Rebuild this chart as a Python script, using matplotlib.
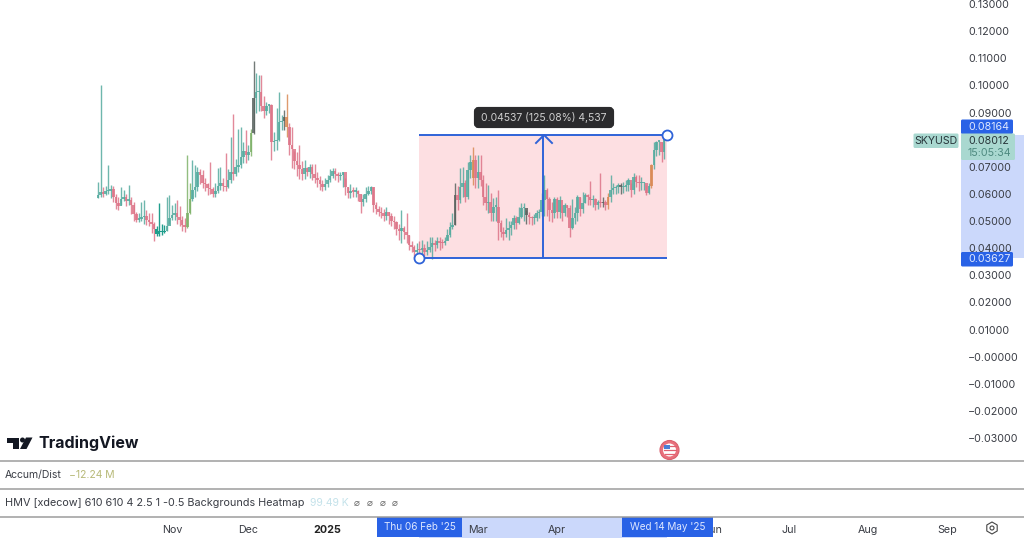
import matplotlib
matplotlib.use("Agg")
import matplotlib.pyplot as plt
from matplotlib.patches import Rectangle, FancyBboxPatch, Polygon, Circle, RegularPolygon

plt.rcParams['font.family'] = ['Inter', 'DejaVu Sans']

# Daily candles, prices in units of 0.0001 (first candle 3 Oct 2024)
opens = [585,596,608,600,610,612,618,590,565,555,
 583,590,575,578,560,525,505,507,515,520,
 505,495,490,470,452,462,460,465,480,510,
 522,528,515,505,485,478,530,580,615,625,
 680,670,640,635,620,618,600,612,628,640,
 630,625,650,682,675,700,705,735,760,745,
 755,825,955,975,975,925,905,925,928,790,
 795,800,865,870,885,845,780,765,720,705,
 690,675,695,680,700,672,660,650,635,625,
 635,650,665,685,672,665,668,680,625,605,
 612,608,610,598,570,580,600,610,625,560,
 545,535,530,520,535,520,500,495,470,465,
 475,460,450,410,405,385,395,393,400,385,
 395,405,418,410,425,420,418,428,448,479,
 485,596,577,626,640,590,688,657,725,657,
 682,651,590,565,571,528,553,553,491,461,
 454,467,473,485,510,491,516,547,547,522,
 516,510,510,528,534,577,614,583,540,528,
 583,534,577,528,559,547,473,510,528,590,
 546,565,596,590,577,583,559,571,565,571,
 559,590,614,620,626,633,624,626,633,651,
 614,663,645,639,639,639,602,629,706,762,
 792,792,756]
closes = [596,608,600,610,612,618,590,565,555,583,
 590,575,578,560,525,505,507,515,520,505,
 495,490,470,452,462,460,465,480,510,522,
 528,515,505,485,478,530,580,615,625,680,
 670,640,635,620,618,600,612,628,640,630,
 625,650,682,675,700,705,735,760,745,755,
 825,955,975,975,925,905,925,928,790,795,
 800,865,870,885,845,780,765,720,705,690,
 675,695,680,700,672,660,650,635,625,635,
 650,665,685,672,665,668,680,625,605,612,
 608,610,598,570,580,600,610,625,560,545,
 535,530,520,535,520,500,495,470,465,475,
 460,450,410,405,385,395,393,400,385,395,
 405,418,410,425,420,418,428,448,479,485,
 596,577,626,640,590,688,719,725,657,682,
 651,590,565,571,528,553,553,491,461,454,
 467,473,485,510,491,516,547,547,522,516,
 510,510,528,534,577,614,583,540,528,583,
 534,577,528,559,547,473,510,528,590,546,
 565,596,590,577,583,559,571,565,571,559,
 590,614,620,626,633,624,626,633,651,614,
 663,645,639,639,639,602,629,706,762,792,
 792,756,801]
highs = [645,1000,626,628,706,632,628,600,590,626,
 615,600,632,590,570,535,530,571,577,540,
 528,528,495,480,567,490,485,589,595,560,
 565,577,555,520,510,743,640,724,706,700,
 690,688,660,640,718,625,640,694,700,660,
 749,690,810,896,730,841,847,790,835,780,
 841,1089,1046,1038,1038,960,940,933,933,830,
 915,976,890,910,970,860,847,760,755,782,
 720,725,700,712,712,712,680,665,650,660,
 670,690,694,694,680,680,681,660,625,638,
 625,625,615,600,600,625,629,629,625,570,
 555,550,545,550,535,530,520,500,490,542,
 480,528,450,425,410,420,425,430,415,425,
 440,442,430,440,440,435,440,470,495,528,
 639,630,694,700,651,719,743,774,743,743,
 743,669,639,633,602,584,590,614,505,479,
 510,500,500,522,520,553,567,565,540,535,
 520,525,540,545,602,669,620,590,572,590,
 590,592,560,565,560,560,583,553,596,590,
 608,602,600,647,596,585,577,678,590,577,
 602,669,640,633,640,639,645,653,657,640,
 676,670,670,663,645,633,640,712,792,796,
 796,792,811]
lows = [585,590,590,595,600,585,570,546,540,560,
 575,555,560,525,500,497,495,500,490,485,
 480,455,427,445,445,450,455,465,490,505,
 505,490,480,465,460,475,525,575,590,610,
 635,620,610,595,600,590,590,605,615,610,
 610,620,640,650,665,680,695,715,715,725,
 740,820,900,905,905,880,890,900,724,760,
 761,795,835,835,810,745,694,690,665,655,
 651,655,665,660,650,640,625,615,610,615,
 625,645,660,650,645,650,625,595,585,585,
 590,590,575,531,555,570,595,600,535,525,
 520,510,500,505,490,480,470,450,430,420,
 435,420,395,385,362,365,362,375,370,375,
 385,359,390,400,395,400,410,430,440,470,
 485,540,565,590,570,580,660,633,620,620,
 630,560,540,530,500,500,500,430,440,430,
 440,430,450,470,470,490,510,500,490,490,
 485,490,500,510,520,520,520,500,495,510,
 510,510,500,520,515,440,470,490,500,520,
 530,565,560,560,550,540,545,550,550,540,
 545,570,600,600,605,600,605,610,610,590,
 600,625,610,615,615,595,600,620,690,740,
 745,719,730]

dark_candles = [61, 140, 73, 168, 198, 205]
olive_candles = [35, 36, 60]
orange_candles = [74, 147, 200, 217]
strong_teal = [23, 24, 25, 26]

price_ticks = [0.13,0.12,0.11,0.10,0.09,0.08,0.07,0.06,0.05,0.04,0.03,0.02,0.01,0.0,-0.01,-0.02,-0.03]
price_labels = ["0.13000","0.12000","0.11000","0.10000","0.09000","","0.07000","0.06000","0.05000",
                "0.04000","0.03000","0.02000","0.01000","\u22120.00000","\u22120.01000","\u22120.02000","\u22120.03000"]
month_ticks = [29, 59, 90, 149, 180, 241, 271, 302, 333]
month_labels = ["Nov","Dec","2025","Mar","Apr","Jun","Jul","Aug","Sep"]

measure_start, measure_end = 126, 223
measure_low, measure_high = 0.03627, 0.08164
last_price = 0.08012

W, H = 1024, 538
fig = plt.figure(figsize=(W/100, H/100), dpi=100, facecolor="white")

def px_axes(z):
    a = fig.add_axes([0, 0, 1, 1], zorder=z)
    a.set_xlim(0, W); a.set_ylim(H, 0); a.axis("off"); a.patch.set_alpha(0)
    return a

under = px_axes(0)
over = px_axes(5)

# Main price axes: 0..961 px wide, 0..517 px tall
ax = fig.add_axes([0, 21/H, 961/W, 517/H], zorder=2)
ax.patch.set_alpha(0)
for s in ax.spines.values():
    s.set_visible(False)
ax.set_xlim(-98/2.55, (961-98)/2.55)
ax.set_ylim(0.13-513/2713, 0.13+4/2713)
ax.yaxis.tick_right()
ax.set_yticks(price_ticks, price_labels)
ax.tick_params(axis="y", length=0, pad=5, labelsize=7.7, labelcolor="#3a3d45")
ax.set_xticks(month_ticks, month_labels)
ax.tick_params(axis="x", length=0, pad=6, labelsize=7.7, labelcolor="#3a3d45")
for lbl in ax.get_xticklabels():
    if lbl.get_text() == "2025":
        lbl.set_fontweight("bold")
        lbl.set_color("#222222")

# Measure tool background
ax.add_patch(Rectangle((measure_start, measure_low), measure_end-measure_start,
                       measure_high-measure_low, fc="#fddfe2", ec="none", zorder=1))

# Candles
for i, (o, h, l, c) in enumerate(zip(opens, highs, lows, closes)):
    col = "#55ab9f" if c >= o else "#dd7488"
    alpha = 0.85
    if i in dark_candles: col = "#5a6460"
    if i in olive_candles: col = "#7fb26a"
    if i in orange_candles: col = "#d98a55"
    if i in strong_teal: col = "#1f9e8c"; alpha = 1
    ax.vlines(i, l/1e4, h/1e4, color=col, lw=1.0, alpha=alpha, zorder=3)
    ax.bar(i, max(abs(c-o), 5)/1e4, bottom=min(o, c)/1e4, width=1.0, color=col, alpha=alpha, zorder=3, lw=0)

# Measure tool lines
blue = "#2f63d8"
ax.hlines([measure_low, measure_high], measure_start, measure_end, color=blue, lw=1.4, zorder=4)
mid = (measure_start+measure_end)/2
ax.vlines(mid, measure_low, measure_high, color=blue, lw=1.4, zorder=4)
ax.plot([measure_start, measure_end], [measure_low, measure_high], ls="none", marker="o", ms=7.2,
        mfc="white", mec=blue, mew=1.3, zorder=6, clip_on=False)

# Pixel-space chrome beneath the price labels
under.add_patch(Rectangle((961, 135), 63, 123, fc="#cbd8fb", ec="none"))
under.add_patch(Rectangle((419, 517), 248, 21, fc="#cbd8fb", ec="none"))

# Chevron of measure arrow
over.plot([536, 544, 552], [143, 135, 143], color=blue, lw=1.4)

# Tooltip
over.add_patch(FancyBboxPatch((476, 109), 136, 17, boxstyle="round,pad=0,rounding_size=2.5",
                              mutation_aspect=1, fc="#2b2b2d", ec="#2b2b2d", lw=3))
over.text(544, 117.5, "0.04537 (125.08%) 4,537", color="#cfcfcf", fontsize=7.5, ha="center", va="center")

# Price labels
over.add_patch(FancyBboxPatch((961, 119.5), 52, 14.5, boxstyle="round,pad=0,rounding_size=1.5", fc="#2962e6", ec="none"))
over.text(968, 127, "0.08164", color="#dfe8ff", fontsize=7.7, va="center")
over.add_patch(FancyBboxPatch((961, 252), 52, 14.5, boxstyle="round,pad=0,rounding_size=1.5", fc="#2962e6", ec="none"))
over.text(968, 259.5, "0.03627", color="#dfe8ff", fontsize=7.7, va="center")
over.add_patch(FancyBboxPatch((961, 133.5), 54, 26.5, boxstyle="round,pad=0,rounding_size=1.5", fc="#a9d8d0", ec="none"))
over.text(968, 141, "%.5f" % last_price, color="#27353a", fontsize=7.7, va="center")
over.text(968, 153, "15:05:34", color="#4e8a80", fontsize=7.7, va="center")
over.add_patch(FancyBboxPatch((913.5, 133.5), 45, 14.5, boxstyle="round,pad=0,rounding_size=1.5", fc="#a9d8d0", ec="none"))
over.text(936, 141, "SKYUSD", color="#27353a", fontsize=7.6, va="center", ha="center")

# Separators
for y in (461, 489, 517):
    over.plot([0, W], [y, y], color="#9c9c9c", lw=1.1)

# Time labels (the date box hides the start of "Jun", as in the reference)
for x0, x1, txt in ((377, 462, "Thu 06 Feb '25"), (622, 713, "Wed 14 May '25")):
    over.add_patch(Rectangle((x0, 517), x1-x0, 20, fc="#2962e6", ec="none"))
    over.text((x0+x1)/2, 527.5, txt, color="#dfe8ff", fontsize=7.15, ha="center", va="center")

# Logo
k = "#131722"
over.add_patch(Polygon([(7, 437.5), (19, 437.5), (19, 449), (13, 449), (13, 442.5), (7, 442.5)], fc=k, ec="none"))
over.add_patch(Circle((22.5, 440), 2.5, fc=k, ec="none"))
over.add_patch(Polygon([(26, 437.5), (32.5, 437.5), (26.5, 449), (20, 449)], fc=k, ec="none"))
over.text(38, 443.5, "TradingView", color=k, fontsize=11.5, fontweight="bold", va="center")

# Indicator legends
over.text(5, 475, "Accum/Dist", color="#3a3d45", fontsize=7.5, va="center")
over.text(69, 475, "\u221212.24 M", color="#b7b977", fontsize=7.5, va="center")
over.text(5, 503, "HMV [xdecow] 610 610 4 2.5 1 -0.5 Backgrounds Heatmap", color="#3a3d45", fontsize=7.8, va="center")
over.text(310, 503, "99.49 K", color="#c4e2ea", fontsize=7.5, va="center")
for x in (357, 370, 383, 395):
    over.text(x, 503, "\u2300", color="#666666", fontsize=7, ha="center", va="center", family="DejaVu Sans")

# Flag badge
over.add_patch(Circle((669.5, 450), 9.5, fc="#e9707c", ec="#d9606e", lw=0.8))
over.add_patch(Circle((669.5, 450), 6.5, fc="white", ec="none"))
over.add_patch(Rectangle((664, 445), 6, 4, fc="#4a7fd6", ec="none"))
over.plot([670, 676], [446, 446], color="#e06070", lw=0.9)
over.plot([663.5, 676], [450, 450], color="#e06070", lw=0.9)
over.plot([665, 674], [454, 454], color="#e06070", lw=0.9)

# Settings icon
over.add_patch(RegularPolygon((992, 528), 6, radius=6, fc="none", ec="#444444", lw=0.8))
over.add_patch(Circle((992, 528), 2, fc="none", ec="#444444", lw=0.8))

fig.savefig("out.png", dpi=100)
